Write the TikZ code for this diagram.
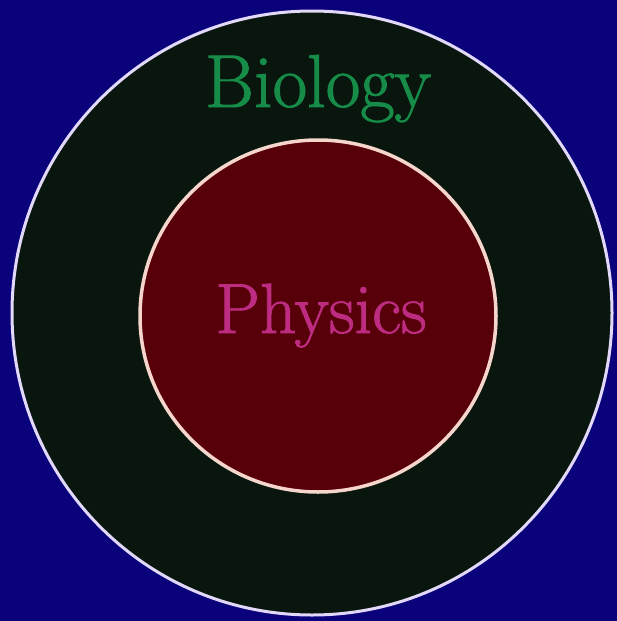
\documentclass[tikz,border=0pt]{standalone}
\usepackage{fontspec}
\newfontfamily\labelfont{Latin Modern Roman}[FakeBold=1.3]
\definecolor{bgblue}{RGB}{10,2,122}
\definecolor{outerfill}{RGB}{8,22,14}
\definecolor{innerfill}{RGB}{88,0,10}
\definecolor{outerline}{RGB}{226,216,250}
\definecolor{innerline}{RGB}{246,214,204}
\definecolor{biogreen}{RGB}{22,140,72}
\definecolor{physpink}{RGB}{190,44,130}
\begin{document}
\begin{tikzpicture}[x=1pt,y=-1pt,
  label text/.style={anchor=base, inner sep=0pt}]
\useasboundingbox[fill=bgblue] (0,0) rectangle (617,621);
\draw[fill=outerfill, draw=outerline, line width=3pt] (312,313) ellipse [x radius=300, y radius=302];
\draw[fill=innerfill, draw=innerline, line width=3.5pt] (318,316) ellipse [x radius=178, y radius=176];
\node[label text, text=biogreen, font=\labelfont\fontsize{75}{82}\selectfont] (bio) at (318,107) {Biology};
\node[label text, text=physpink, font=\labelfont\fontsize{71}{78}\selectfont] (phys) at (321,333) {Physics};
\end{tikzpicture}
\end{document}
